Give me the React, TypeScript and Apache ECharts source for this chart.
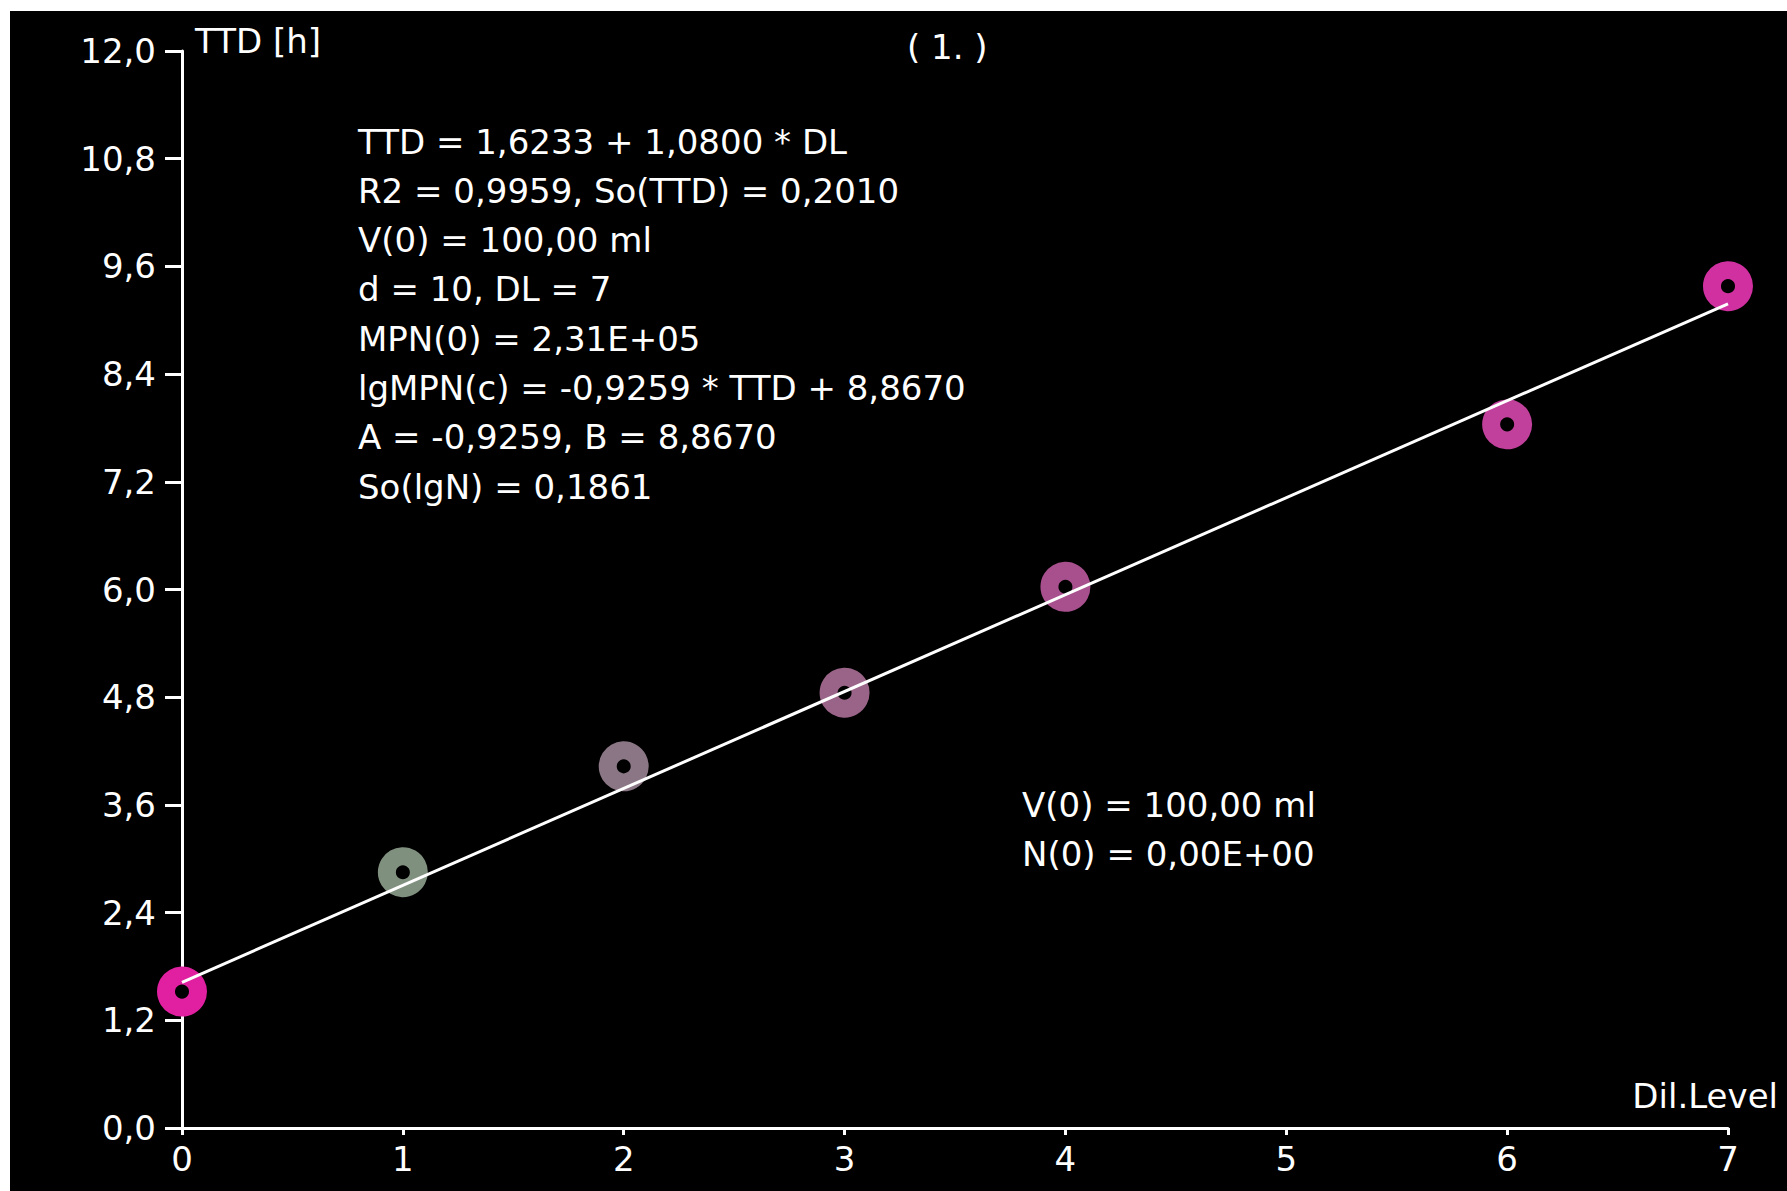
import React, { useEffect, useRef } from "react";
import * as echarts from "echarts";

const dilLevels = [0, 1, 2, 3, 4, 6, 7];
const ttdValues = [1.52, 2.85, 4.03, 4.85, 6.03, 7.84, 9.38];
const pointColors = ["#E020A0", "#80907F", "#8A7684", "#9A6488", "#A8508E", "#C0409C", "#D030A0"];
const fitLine: [number, number][] = [[0, 1.6233], [7, 9.1833]];
const statsLines = [
  "TTD = 1,6233 + 1,0800 * DL",
  "R2 = 0,9959, So(TTD) = 0,2010",
  "V(0) = 100,00 ml",
  "d = 10, DL = 7",
  "MPN(0) = 2,31E+05",
  "lgMPN(c) = -0,9259 * TTD + 8,8670",
  "A = -0,9259, B = 8,8670",
  "So(lgN) = 0,1861",
];
const lowerLines = ["V(0) = 100,00 ml", "N(0) = 0,00E+00"];

const FONT = "'DejaVu Sans', sans-serif";
const FS = 34;

export default function App() {
  const ref = useRef<HTMLDivElement>(null);
  useEffect(() => {
    if (!ref.current) return;
    const chart = echarts.init(ref.current, null, { renderer: "svg" });
    const textStyle = { fill: "#fff", fontSize: FS, fontFamily: FONT };
    const graphics: any[] = [];
    statsLines.forEach((t, i) => {
      graphics.push({
        type: "text", left: 348, top: 131.5 + i * 49.3 - 18, silent: true,
        style: { ...textStyle, text: t },
      });
    });
    lowerLines.forEach((t, i) => {
      graphics.push({
        type: "text", left: 1012, top: 795 + i * 49 - 18, silent: true,
        style: { ...textStyle, text: t },
      });
    });
    graphics.push({ type: "text", left: 185, top: 13, silent: true, style: { ...textStyle, text: "TTD [h]" } });
    graphics.push({ type: "text", left: 897, top: 19, silent: true, style: { ...textStyle, text: "( 1. )" } });
    graphics.push({ type: "text", right: 9, top: 1068, silent: true, style: { ...textStyle, text: "Dil.Level" } });

    chart.setOption({
      animation: false,
      backgroundColor: "#000",
      grid: { left: 172, right: 59, top: 40, bottom: 63, containLabel: false },
      xAxis: {
        type: "value", min: 0, max: 7, interval: 1,
        axisLine: { show: true, onZero: false, lineStyle: { color: "#fff", width: 3 } },
        axisTick: { show: true, length: 7, lineStyle: { color: "#fff", width: 3 } },
        splitLine: { show: false },
        axisLabel: { color: "#fff", fontSize: FS, fontFamily: FONT, margin: 14 },
      },
      yAxis: {
        type: "value", min: 0, max: 12, interval: 1.2,
        axisLine: { show: true, lineStyle: { color: "#fff", width: 3 } },
        axisTick: { show: true, length: 17, lineStyle: { color: "#fff", width: 3 } },
        splitLine: { show: false },
        axisLabel: {
          color: "#fff", fontSize: FS, fontFamily: FONT, margin: 26, padding: [10, 0, 0, 0],
          formatter: (v: number) => v.toFixed(1).replace(".", ","),
        },
      },
      graphic: graphics,
      series: [
        {
          type: "scatter", z: 2,
          symbol: "circle", symbolSize: 32,
          data: dilLevels.map((x, i) => ({
            value: [x, ttdValues[i]],
            itemStyle: { color: "#000", borderColor: pointColors[i], borderWidth: 18, opacity: 1 },
          })),
        },
        {
          type: "line", z: 3, data: fitLine, showSymbol: false, symbol: "none",
          lineStyle: { color: "#fff", width: 3 },
        },
      ],
    });
    return () => chart.dispose();
  }, []);
  return (
    <div
      ref={ref}
      style={{ position: "absolute", left: 10, top: 11, width: 1777, height: 1180 }}
    />
  );
}
